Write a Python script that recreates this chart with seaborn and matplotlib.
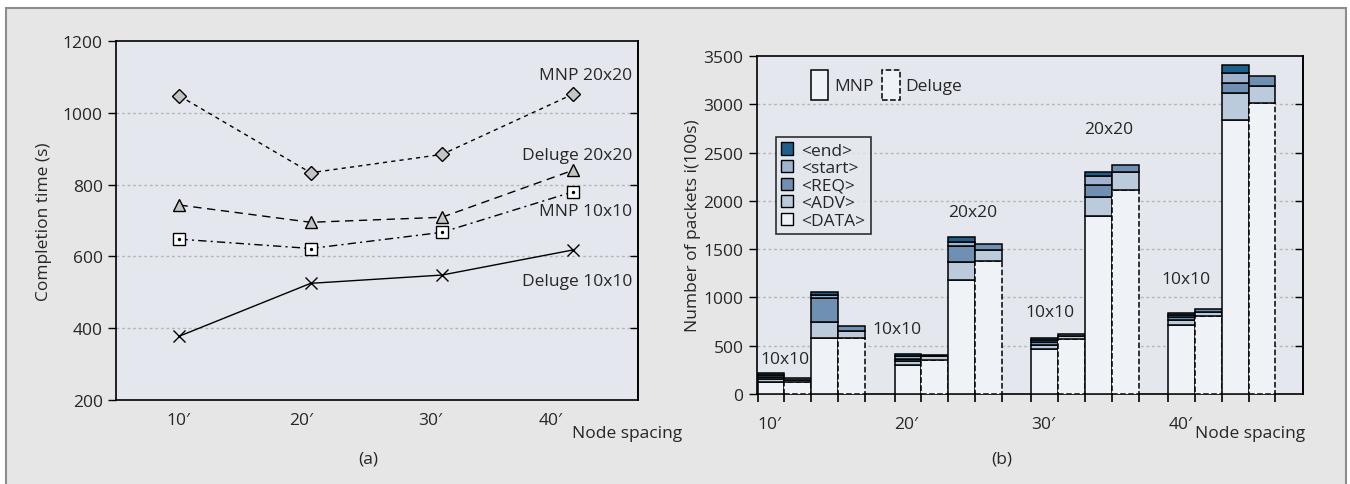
import numpy as np
import pandas as pd
import seaborn as sns
import matplotlib.pyplot as plt
from matplotlib.patches import Patch, Rectangle

# data
spacing = ["10′", "20′", "30′", "40′"]

# (a) completion time (s)
mnp_20 = [1047, 833, 884, 1052]
deluge_20 = [743, 695, 709, 840]
mnp_10 = [648, 622, 667, 780]
deluge_10 = [378, 525, 548, 618]

# (b) number of packets, stacked parts
mnp10_data = [127, 305, 470, 710]
mnp10_adv = [24, 35, 35, 55]
mnp10_req = [22, 25, 30, 30]
mnp10_start = [24, 25, 20, 25]
mnp10_end = [24, 20, 20, 20]

deluge10_data = [125, 350, 570, 810]
deluge10_adv = [15, 45, 30, 35]
deluge10_req = [25, 10, 25, 35]

mnp20_data = [580, 1185, 1840, 2840]
mnp20_adv = [170, 185, 205, 275]
mnp20_req = [240, 165, 120, 105]
mnp20_start = [35, 40, 95, 105]
mnp20_end = [27, 55, 35, 80]

deluge20_data = [580, 1380, 2115, 3010]
deluge20_adv = [70, 110, 180, 175]
deluge20_req = [50, 65, 80, 105]

parts = ["<end>", "<start>", "<REQ>", "<ADV>", "<DATA>"]

c_end = "#1f5f8b"
c_start = "#9fb3cf"
c_req = "#6f8fb3"
c_adv = "#bccbdc"
c_data = "#eff2f6"
ax_bg = "#e4e8ee"
FS = 12.5

sns.set_theme(style="white")
plt.rcParams['font.family'] = ['Open Sans', 'DejaVu Sans']
plt.rcParams['font.size'] = FS

fig = plt.figure(figsize=(13.5, 4.85), dpi=100)
fig.patches.append(Rectangle((6 / 1350, -0.01), 1340 / 1350, (485 - 9) / 485 + 0.01,
                             transform=fig.transFigure, facecolor="#e6e6e6",
                             edgecolor="#8c8c8c", lw=1.5, zorder=-10))

# %% (a) line chart
ax1 = fig.add_axes([116 / 1350, 84 / 485, 522 / 1350, 359 / 485])
ax1.set_facecolor(ax_bg)
xs = [1, 2, 3, 4]
df = pd.DataFrame({"x": xs * 4,
                   "y": mnp_20 + deluge_20 + mnp_10 + deluge_10,
                   "s": ["MNP 20x20"] * 4 + ["Deluge 20x20"] * 4 + ["MNP 10x10"] * 4 + ["Deluge 10x10"] * 4})
styles = {
    "MNP 20x20": dict(dashes=(3, 3), marker="D", ms=7, mfc="#c4c4c4"),
    "Deluge 20x20": dict(dashes=(6, 4), marker="^", ms=9, mfc="#c4c4c4"),
    "MNP 10x10": dict(dashes=(6, 3, 1.5, 3), marker="s", ms=8, mfc="white"),
    "Deluge 10x10": dict(dashes=(None, None), marker="x", ms=8, mfc="black"),
}
for name, st in styles.items():
    sub = df[df.s == name]
    sns.lineplot(x="x", y="y", data=sub, ax=ax1, color="black", lw=1.0,
                 marker=st["marker"], markersize=st["ms"], markerfacecolor=st["mfc"],
                 markeredgecolor="black", markeredgewidth=1.0)
    ln = ax1.lines[-1]
    if st["dashes"][0] is not None:
        ln.set_dashes(st["dashes"])
    if name == "MNP 10x10":
        ax1.scatter(sub.x, sub.y, s=2, color="black", zorder=5)

ax1.set_xlim(0.516, 4.495)
ax1.set_ylim(200, 1200)
ax1.set_yticks(range(200, 1201, 200))
# the labels sit slightly left of the points in the original
ax1.set_xticks([0.99, 1.93, 2.91, 3.83])
ax1.set_xticklabels(spacing)
ax1.tick_params(axis="x", length=0, pad=9, labelsize=FS)
ax1.tick_params(axis="y", direction="out", length=6, width=1, color="black", labelsize=FS, left=True)
for v in range(400, 1001, 200):
    ax1.axhline(v, color="#b5b5b5", lw=1, ls=(0, (2, 2)), zorder=0)
sec1 = ax1.secondary_yaxis("right")
sec1.set_yticks(range(400, 1001, 200))
sec1.tick_params(direction="in", length=6, width=1, color="black", labelright=False)
for sp in list(ax1.spines.values()) + list(sec1.spines.values()):
    sp.set_color("black")
    sp.set_linewidth(1.2)
ax1.set_xlabel("")
ax1.set_ylabel("Completion time (s)", fontsize=FS, labelpad=8)

lab_y = [1105, 882, 726, 531]
for t, yv in zip(["MNP 20x20", "Deluge 20x20", "MNP 10x10", "Deluge 10x10"], lab_y):
    ax1.text(4.45, yv, t, ha="right", va="center", fontsize=FS)

fig.text(572 / 1350, 1 - 434 / 485, "Node spacing", ha="left", va="center", fontsize=FS)
fig.text(368 / 1350, 1 - 460 / 485, "(a)", ha="center", va="center", fontsize=FS)

# %% (b) stacked bars
ax2 = fig.add_axes([756.8 / 1350, 90 / 485, 546 / 1350, 338 / 485])
ax2.set_facecolor(ax_bg)
step = 5.11
starts = np.arange(4) * step

bars = [
    (0, [mnp10_data, mnp10_adv, mnp10_req, mnp10_start, mnp10_end], "-"),
    (1, [deluge10_data, deluge10_adv, deluge10_req], "--"),
    (2, [mnp20_data, mnp20_adv, mnp20_req, mnp20_start, mnp20_end], "-"),
    (3, [deluge20_data, deluge20_adv, deluge20_req], "--"),
]
seg_colors = [c_data, c_adv, c_req, c_start, c_end]
for off, segs, ls in bars:
    bottom = np.zeros(4)
    for k, vals in enumerate(segs):
        ax2.bar(starts + off, vals, width=1, bottom=bottom, align="edge",
                color=seg_colors[k], edgecolor="black", lw=1.1,
                linestyle=ls if k == 0 else "-", zorder=3)
        bottom = bottom + np.array(vals)

ax2.set_xlim(-0.03, 20.35)
ax2.set_ylim(0, 3500)
ax2.set_yticks(range(0, 3501, 500))
ax2.set_xticks(starts)
ax2.set_xticklabels(spacing, ha="left")
ax2.set_xticks(np.concatenate([starts + i for i in range(1, 5)]), minor=True)
ax2.tick_params(axis="x", which="both", direction="out", length=6, width=1.2, color="black",
                bottom=True, pad=10, labelsize=FS)
ax2.tick_params(axis="y", direction="out", length=6, width=1, color="black", labelsize=FS, left=True)
for v in range(500, 3001, 500):
    ax2.axhline(v, color="#b5b5b5", lw=1, ls=(0, (2, 2)), zorder=0)
sec2 = ax2.secondary_yaxis("right")
sec2.set_yticks(range(500, 3001, 500))
sec2.tick_params(direction="in", length=6, width=1, color="black", labelright=False)
for sp in list(ax2.spines.values()) + list(sec2.spines.values()):
    sp.set_color("black")
    sp.set_linewidth(1.2)
ax2.set_ylabel("Number of packets i(100s)", fontsize=FS, labelpad=2)

grp_txt = ["10x10", "10x10", "20x20", "10x10", "20x20", "10x10"]
grp_x = [1.04, 5.19, 8.03, 10.93, 13.1, 16.0]
grp_y = [363, 673, 1885, 850, 2745, 1191]
for t, gx, gy in zip(grp_txt, grp_x, grp_y):
    ax2.text(gx, gy, t, ha="center", va="center", fontsize=FS, zorder=4)

leg1 = ax2.legend(handles=[Patch(facecolor=c_data, edgecolor="black", lw=1.1, label="MNP"),
                           Patch(facecolor=c_data, edgecolor="black", lw=1.1, ls="--", label="Deluge")],
                  ncol=2, frameon=False, loc="upper left", bbox_to_anchor=(0.07, 1.005),
                  handlelength=1.0, handleheight=2.3, handletextpad=0.35, columnspacing=0.5,
                  fontsize=FS)
ax2.add_artist(leg1)
leg2 = ax2.legend(handles=[Patch(facecolor=c, edgecolor="black", lw=1, label=p)
                           for c, p in zip([c_end, c_start, c_req, c_adv, c_data], parts)],
                  loc="upper left", bbox_to_anchor=(0.028, 0.77), frameon=True, fancybox=False,
                  handlelength=0.7, handleheight=0.7, handletextpad=0.5, labelspacing=0.08,
                  borderpad=0.3, borderaxespad=0.2, fontsize=FS)
leg2.get_frame().set_edgecolor("black")
leg2.get_frame().set_linewidth(1.2)
leg2.get_frame().set_facecolor(ax_bg)

fig.text(1305 / 1350, 1 - 434 / 485, "Node spacing", ha="right", va="center", fontsize=FS)
fig.text(1002 / 1350, 1 - 460 / 485, "(b)", ha="center", va="center", fontsize=FS)

fig.savefig("out.png", dpi=100, facecolor="white")
